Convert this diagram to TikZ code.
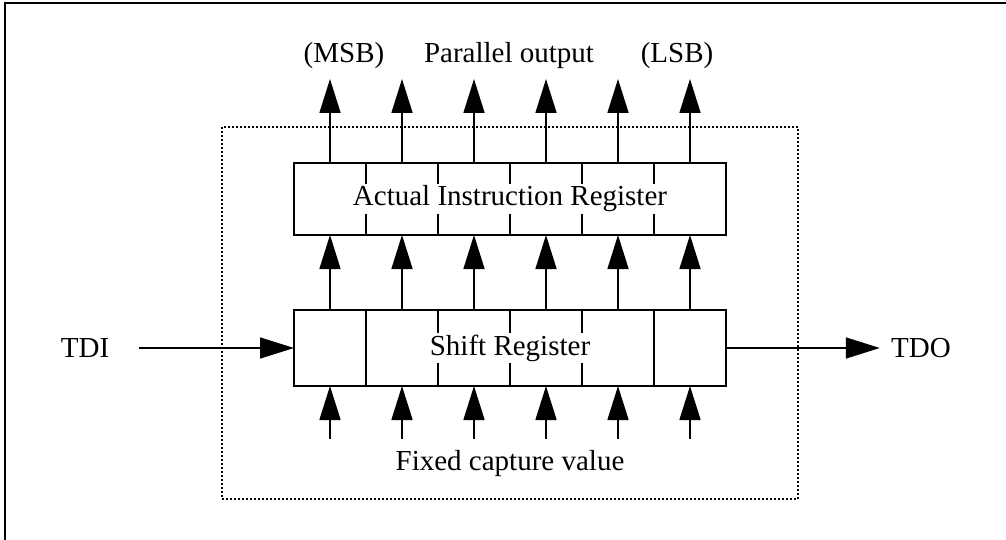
\documentclass[tikz,border=0pt]{standalone}
\usepackage{fontspec}
\setmainfont{Liberation Serif}
\usetikzlibrary{arrows.meta, positioning}

\begin{document}
\begin{tikzpicture}[x=0.5pt,y=-0.5pt,
  cell/.style={draw,line width=0.8pt,minimum width=36pt,minimum height=38pt,
    inner sep=0pt,outer sep=0pt},
  ircell/.style={cell,minimum height=36pt},
  lbl/.style={font=\fontsize{14.5}{17}\selectfont,inner sep=1pt},
  bus/.style={line width=0.8pt,-{Triangle[length=17pt,width=10.5pt]}}]
  \useasboundingbox (0,0) rectangle (1006,540);
  \draw[line width=1pt] (5,540) -- (5,3) -- (1006,3);
  % dotted boundary
  \draw[line width=0.7pt,dash pattern=on 1pt off 1pt] (222,127) rectangle (798,499);
  % shift register and actual instruction register
  \node[cell](s1) at (330,348) {};
  \node[ircell](i1) at (330,199) {};
  \foreach \i [count=\j from 2] in {1,...,5} {
    \node[cell,right=0pt of s\i](s\j) {};
    \node[ircell,right=0pt of i\i](i\j) {};
  }
  \node[lbl,fill=white](srname) at (s3.east) {Shift Register};
  \node[lbl,fill=white](irname) at (i3.east) {Actual Instruction Register};
  \foreach \k in {1,...,6} {
    \coordinate[above=42pt of i\k.north](o\k);
    \coordinate[below=26.5pt of s\k.south](c\k);
    \draw[bus] (s\k.north) -- (i\k.south);
    \draw[bus] (i\k.north) -- (o\k);
    \draw[bus] (c\k) -- (s\k.south);
  }
  \node[lbl,anchor=base](msb) at (344,63) {(MSB)};
  \node[lbl,anchor=base](parout) at (509,63) {Parallel output};
  \node[lbl,anchor=base](lsb) at (677,63) {(LSB)};
  \node[lbl,anchor=base](capval) at (510,470) {Fixed capture value};
  \node[lbl](tdi) at (85,348) {TDI};
  \node[lbl](tdo) at (921,348) {TDO};
  \draw[bus,shorten <=13.5pt] (tdi) -- (s1);
  \draw[bus,shorten >=4.5pt] (s6) -- (tdo);
\end{tikzpicture}
\end{document}
